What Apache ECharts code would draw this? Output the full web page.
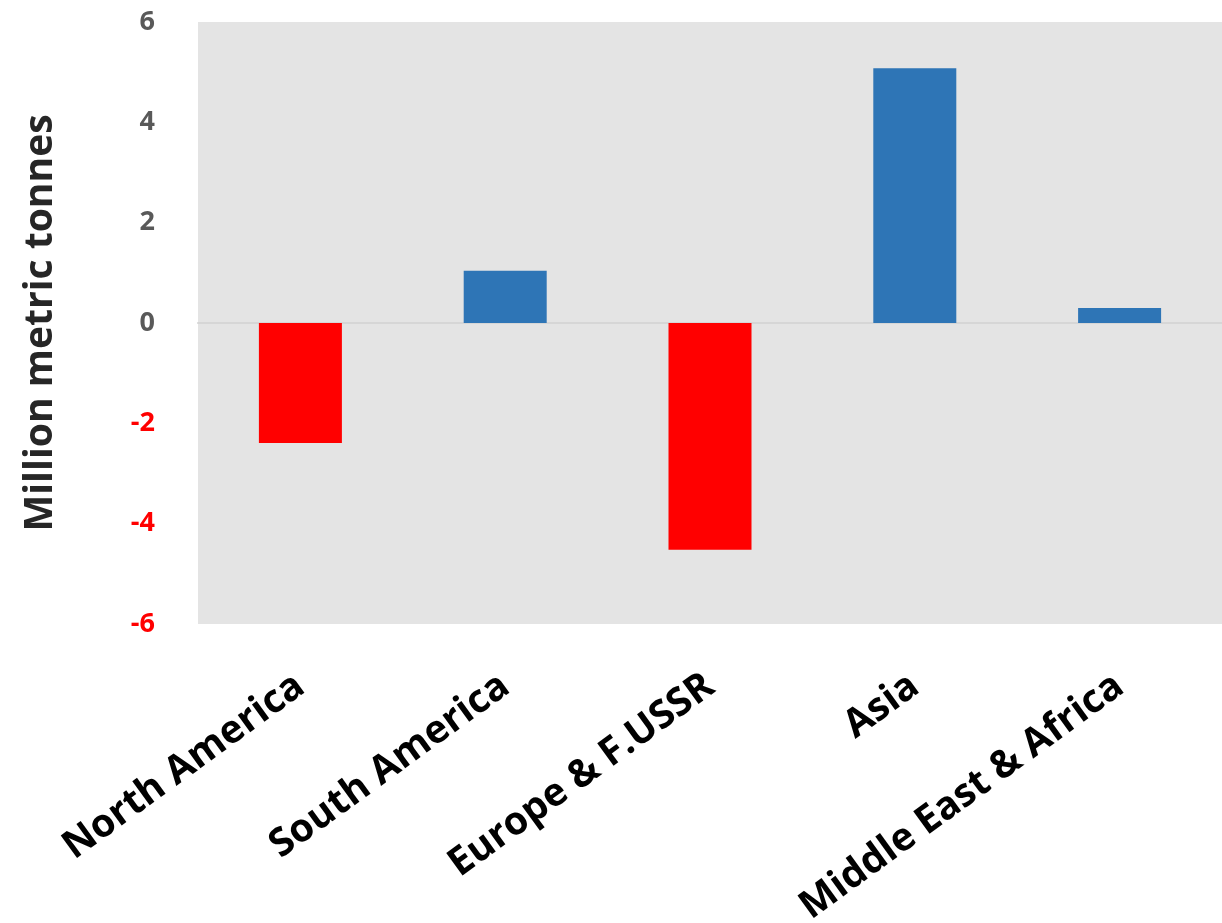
<!DOCTYPE html>
<html>
<head>
<meta charset="utf-8">
<script src="https://cdn.jsdelivr.net/npm/echarts@6/dist/echarts.min.js"></script>
<style>html,body{margin:0;padding:0;background:#fff}#c{width:1222px;height:923px}</style>
</head>
<body>
<div id="c"></div>
<script>
const categories = ["North America", "South America", "Europe & F.USSR", "Asia", "Middle East & Africa"];
const values = [-2.39, 1.04, -4.52, 5.08, 0.30];
const yTicks = { min: -6, max: 6, interval: 2 };
const yTitle = "Million metric tonnes";

const chart = echarts.init(document.getElementById('c'));
chart.setOption({
  backgroundColor: '#ffffff',
  animation: false,
  grid: { left: 198, right: 0, top: 22, bottom: 299, backgroundColor: '#e4e4e4', show: true, borderWidth: 0,
          containLabel: false, outerBoundsMode: 'none' },
  xAxis: {
    type: 'category',
    data: categories,
    axisLine: { show: true, onZero: true, lineStyle: { color: '#d6d6d6', width: 2 } },
    axisTick: { show: false },
    axisLabel: {
      interval: 0, rotate: 36, margin: 58,
      fontFamily: 'Open Sans', fontWeight: 'bold', fontSize: 39, color: '#000000'
    }
  },
  yAxis: {
    type: 'value',
    min: yTicks.min, max: yTicks.max, interval: yTicks.interval,
    splitLine: { show: false },
    axisLine: { show: false },
    axisTick: { show: false },
    name: yTitle,
    nameLocation: 'middle',
    nameGap: 138,
    nameTextStyle: { fontFamily: 'Open Sans', fontWeight: 'bold', fontSize: 39, color: '#262626' },
    axisLabel: {
      margin: 43,
      formatter: function (v) { return v < 0 ? '{neg|' + v + '}' : '{pos|' + v + '}'; },
      rich: {
        pos: { fontFamily: 'Open Sans', fontWeight: 'bold', fontSize: 27, color: '#595959' },
        neg: { fontFamily: 'Open Sans', fontWeight: 'bold', fontSize: 27, color: '#ff0000' }
      }
    }
  },
  series: [{
    type: 'bar',
    data: values.map(v => ({ value: v, itemStyle: { color: v < 0 ? '#ff0000' : '#2e75b6' } })),
    barWidth: 83
  }]
});
</script>
</body>
</html>
